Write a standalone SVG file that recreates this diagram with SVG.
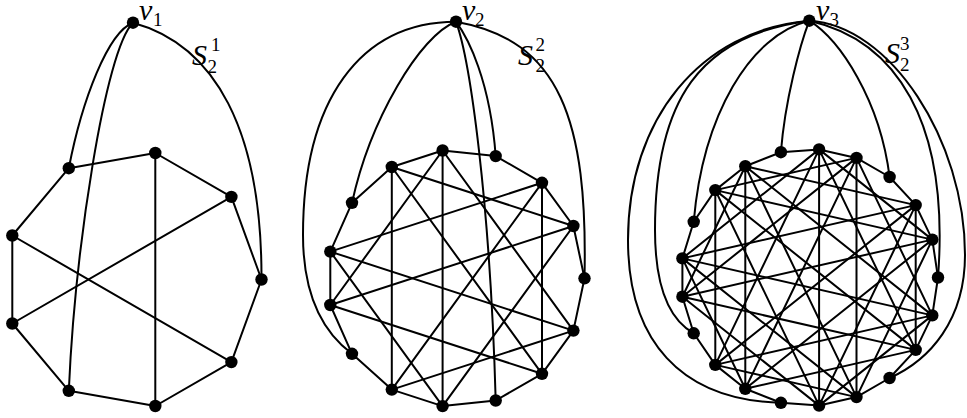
<svg xmlns="http://www.w3.org/2000/svg" width="967" height="418" viewBox="0 0 967 418">
<style>
.e{stroke:#000;stroke-width:2;fill:none;stroke-linecap:round}
.n{fill:#000}
.lbl{font-family:"Liberation Serif","Times New Roman",serif;font-style:italic;font-size:30px;fill:#000}
.d{font-style:normal;font-size:19px}
</style>
<defs><circle id="dot" r="6.2" class="n"/></defs>
<rect width="967" height="418" fill="#fff"/>
<g id="connectors">
<!-- graph 1 -->
<line class="e" x1="68.8" y1="168.2" x2="155.3" y2="153.0"/>
<line class="e" x1="155.3" y1="153.0" x2="231.4" y2="196.9"/>
<line class="e" x1="231.4" y1="196.9" x2="261.5" y2="279.5"/>
<line class="e" x1="261.5" y1="279.5" x2="231.4" y2="362.1"/>
<line class="e" x1="231.4" y1="362.1" x2="155.3" y2="406.0"/>
<line class="e" x1="155.3" y1="406.0" x2="68.8" y2="390.8"/>
<line class="e" x1="68.8" y1="390.8" x2="12.3" y2="323.5"/>
<line class="e" x1="12.3" y1="323.5" x2="12.3" y2="235.5"/>
<line class="e" x1="12.3" y1="235.5" x2="68.8" y2="168.2"/>
<line class="e" x1="155.3" y1="153.0" x2="155.3" y2="406.0"/>
<line class="e" x1="231.4" y1="196.9" x2="12.3" y2="323.5"/>
<line class="e" x1="12.3" y1="235.5" x2="231.4" y2="362.1"/>
<path class="e" d="M133,22.7 C108,32 82,100 68.8,168.2"/>
<path class="e" d="M133,22.7 C105,50 75,250 68.8,390.8"/>
<path class="e" d="M133,22.7 C215,45 262,130 261.5,279.5"/>
<!-- graph 2 -->
<line class="e" x1="442.6" y1="150.5" x2="495.7" y2="156.1"/>
<line class="e" x1="495.7" y1="156.1" x2="542.0" y2="182.8"/>
<line class="e" x1="542.0" y1="182.8" x2="573.4" y2="226.0"/>
<line class="e" x1="573.4" y1="226.0" x2="584.5" y2="278.3"/>
<line class="e" x1="584.5" y1="278.3" x2="573.4" y2="330.6"/>
<line class="e" x1="573.4" y1="330.6" x2="542.0" y2="373.8"/>
<line class="e" x1="542.0" y1="373.8" x2="495.7" y2="400.5"/>
<line class="e" x1="495.7" y1="400.5" x2="442.6" y2="406.1"/>
<line class="e" x1="442.6" y1="406.1" x2="391.8" y2="389.6"/>
<line class="e" x1="391.8" y1="389.6" x2="352.0" y2="353.8"/>
<line class="e" x1="352.0" y1="353.8" x2="330.3" y2="305.0"/>
<line class="e" x1="330.3" y1="305.0" x2="330.3" y2="251.6"/>
<line class="e" x1="330.3" y1="251.6" x2="352.0" y2="202.8"/>
<line class="e" x1="352.0" y1="202.8" x2="391.8" y2="167.0"/>
<line class="e" x1="391.8" y1="167.0" x2="442.6" y2="150.5"/>
<line class="e" x1="442.6" y1="150.5" x2="573.4" y2="330.6"/>
<line class="e" x1="542.0" y1="182.8" x2="542.0" y2="373.8"/>
<line class="e" x1="573.4" y1="226.0" x2="442.6" y2="406.1"/>
<line class="e" x1="573.4" y1="330.6" x2="391.8" y2="389.6"/>
<line class="e" x1="542.0" y1="373.8" x2="330.3" y2="305.0"/>
<line class="e" x1="442.6" y1="406.1" x2="330.3" y2="251.6"/>
<line class="e" x1="391.8" y1="389.6" x2="391.8" y2="167.0"/>
<line class="e" x1="330.3" y1="305.0" x2="442.6" y2="150.5"/>
<line class="e" x1="330.3" y1="251.6" x2="542.0" y2="182.8"/>
<line class="e" x1="391.8" y1="167.0" x2="573.4" y2="226.0"/>
<line class="e" x1="442.6" y1="150.5" x2="442.6" y2="406.1"/>
<line class="e" x1="542.0" y1="182.8" x2="391.8" y2="389.6"/>
<line class="e" x1="573.4" y1="226.0" x2="330.3" y2="305.0"/>
<line class="e" x1="573.4" y1="330.6" x2="330.3" y2="251.6"/>
<line class="e" x1="542.0" y1="373.8" x2="391.8" y2="167.0"/>
<path class="e" d="M456,21.7 C468,38 490,80 495.7,156.1"/>
<path class="e" d="M456,21.7 C470,60 490,200 495.7,400.5"/>
<path class="e" d="M456,21.7 C560,40 588,120 584.5,278.3"/>
<path class="e" d="M456,21.7 C420,35 370,120 352,202.8"/>
<path class="e" d="M456,21.7 C360,22 303,100 303,235 C303,290 320,330 352,353.8"/>
<!-- graph 3 -->
<line class="e" x1="780.9" y1="152.2" x2="819.1" y2="149.4"/>
<line class="e" x1="819.1" y1="149.4" x2="856.5" y2="157.9"/>
<line class="e" x1="856.5" y1="157.9" x2="889.6" y2="177.0"/>
<line class="e" x1="889.6" y1="177.0" x2="915.7" y2="205.1"/>
<line class="e" x1="915.7" y1="205.1" x2="932.3" y2="239.6"/>
<line class="e" x1="932.3" y1="239.6" x2="938.0" y2="277.5"/>
<line class="e" x1="938.0" y1="277.5" x2="932.3" y2="315.4"/>
<line class="e" x1="932.3" y1="315.4" x2="915.7" y2="349.9"/>
<line class="e" x1="915.7" y1="349.9" x2="889.6" y2="378.0"/>
<line class="e" x1="889.6" y1="378.0" x2="856.5" y2="397.1"/>
<line class="e" x1="856.5" y1="397.1" x2="819.1" y2="405.6"/>
<line class="e" x1="819.1" y1="405.6" x2="780.9" y2="402.8"/>
<line class="e" x1="780.9" y1="402.8" x2="745.3" y2="388.8"/>
<line class="e" x1="745.3" y1="388.8" x2="715.3" y2="364.9"/>
<line class="e" x1="715.3" y1="364.9" x2="693.7" y2="333.3"/>
<line class="e" x1="693.7" y1="333.3" x2="682.4" y2="296.7"/>
<line class="e" x1="682.4" y1="296.7" x2="682.4" y2="258.4"/>
<line class="e" x1="682.4" y1="258.4" x2="693.7" y2="221.8"/>
<line class="e" x1="693.7" y1="221.8" x2="715.3" y2="190.1"/>
<line class="e" x1="715.3" y1="190.1" x2="745.3" y2="166.2"/>
<line class="e" x1="745.3" y1="166.2" x2="780.9" y2="152.2"/>
<line class="e" x1="819.1" y1="149.4" x2="932.3" y2="239.6"/>
<line class="e" x1="856.5" y1="157.9" x2="932.3" y2="315.4"/>
<line class="e" x1="915.7" y1="205.1" x2="915.7" y2="349.9"/>
<line class="e" x1="932.3" y1="239.6" x2="856.5" y2="397.1"/>
<line class="e" x1="932.3" y1="315.4" x2="819.1" y2="405.6"/>
<line class="e" x1="915.7" y1="349.9" x2="745.3" y2="388.8"/>
<line class="e" x1="856.5" y1="397.1" x2="715.3" y2="364.9"/>
<line class="e" x1="819.1" y1="405.6" x2="682.4" y2="296.7"/>
<line class="e" x1="745.3" y1="388.8" x2="682.4" y2="258.4"/>
<line class="e" x1="715.3" y1="364.9" x2="715.3" y2="190.1"/>
<line class="e" x1="682.4" y1="296.7" x2="745.3" y2="166.2"/>
<line class="e" x1="682.4" y1="258.4" x2="819.1" y2="149.4"/>
<line class="e" x1="715.3" y1="190.1" x2="856.5" y2="157.9"/>
<line class="e" x1="745.3" y1="166.2" x2="915.7" y2="205.1"/>
<line class="e" x1="819.1" y1="149.4" x2="915.7" y2="349.9"/>
<line class="e" x1="856.5" y1="157.9" x2="856.5" y2="397.1"/>
<line class="e" x1="915.7" y1="205.1" x2="819.1" y2="405.6"/>
<line class="e" x1="932.3" y1="239.6" x2="745.3" y2="388.8"/>
<line class="e" x1="932.3" y1="315.4" x2="715.3" y2="364.9"/>
<line class="e" x1="915.7" y1="349.9" x2="682.4" y2="296.7"/>
<line class="e" x1="856.5" y1="397.1" x2="682.4" y2="258.4"/>
<line class="e" x1="819.1" y1="405.6" x2="715.3" y2="190.1"/>
<line class="e" x1="745.3" y1="388.8" x2="745.3" y2="166.2"/>
<line class="e" x1="715.3" y1="364.9" x2="819.1" y2="149.4"/>
<line class="e" x1="682.4" y1="296.7" x2="856.5" y2="157.9"/>
<line class="e" x1="682.4" y1="258.4" x2="915.7" y2="205.1"/>
<line class="e" x1="715.3" y1="190.1" x2="932.3" y2="239.6"/>
<line class="e" x1="745.3" y1="166.2" x2="932.3" y2="315.4"/>
<line class="e" x1="819.1" y1="149.4" x2="819.1" y2="405.6"/>
<line class="e" x1="856.5" y1="157.9" x2="745.3" y2="388.8"/>
<line class="e" x1="915.7" y1="205.1" x2="715.3" y2="364.9"/>
<line class="e" x1="932.3" y1="239.6" x2="682.4" y2="296.7"/>
<line class="e" x1="932.3" y1="315.4" x2="682.4" y2="258.4"/>
<line class="e" x1="915.7" y1="349.9" x2="715.3" y2="190.1"/>
<line class="e" x1="856.5" y1="397.1" x2="745.3" y2="166.2"/>
<path class="e" d="M809.3,20.7 C800,45 785,100 780.9,152.2"/>
<path class="e" d="M809.3,20.7 C840,40 880,100 889.6,177.0"/>
<path class="e" d="M809.3,20.7 C895,40 950,120 938.0,277.5"/>
<path class="e" d="M809.3,20.7 C890,25 965,140 965,255 C965,320 930,360 889.6,378.0"/>
<path class="e" d="M809.3,20.7 C750,35 703,115 693.7,221.8"/>
<path class="e" d="M809.3,20.7 C700,35 655,100 655,230 C655,290 670,320 693.7,333.3"/>
<path class="e" d="M809.3,20.7 C700,30 628,120 628,240 C628,340 680,400 780.9,402.8"/>
</g>
<!-- graph 1 nodes -->
<g id="v1"><use href="#dot" x="133" y="22.7"/><text class="lbl" x="139" y="20">v<tspan class="d" x="153" y="25.5">1</tspan></text></g>
<g id="g1a"><use href="#dot" x="68.8" y="168.2"/></g>
<g id="g1b"><use href="#dot" x="155.3" y="153.0"/></g>
<g id="g1c"><use href="#dot" x="231.4" y="196.9"/></g>
<g id="g1d"><use href="#dot" x="261.5" y="279.5"/></g>
<g id="g1e"><use href="#dot" x="231.4" y="362.1"/></g>
<g id="g1f"><use href="#dot" x="155.3" y="406.0"/></g>
<g id="g1g"><use href="#dot" x="68.8" y="390.8"/></g>
<g id="g1h"><use href="#dot" x="12.3" y="323.5"/></g>
<g id="g1i"><use href="#dot" x="12.3" y="235.5"/></g>
<g id="label1"><text class="lbl" x="192" y="65">S<tspan class="d" x="211" y="51">1</tspan><tspan class="d" x="207.5" y="72.5">2</tspan></text></g>
<!-- graph 2 nodes -->
<g id="v2"><use href="#dot" x="456" y="21.7"/><text class="lbl" x="462" y="20">v<tspan class="d" x="475" y="25.5">2</tspan></text></g>
<g id="g2n1"><use href="#dot" x="442.6" y="150.5"/></g>
<g id="g2n2"><use href="#dot" x="495.7" y="156.1"/></g>
<g id="g2n3"><use href="#dot" x="542.0" y="182.8"/></g>
<g id="g2n4"><use href="#dot" x="573.4" y="226.0"/></g>
<g id="g2n5"><use href="#dot" x="584.5" y="278.3"/></g>
<g id="g2n6"><use href="#dot" x="573.4" y="330.6"/></g>
<g id="g2n7"><use href="#dot" x="542.0" y="373.8"/></g>
<g id="g2n8"><use href="#dot" x="495.7" y="400.5"/></g>
<g id="g2n9"><use href="#dot" x="442.6" y="406.1"/></g>
<g id="g2n10"><use href="#dot" x="391.8" y="389.6"/></g>
<g id="g2n11"><use href="#dot" x="352.0" y="353.8"/></g>
<g id="g2n12"><use href="#dot" x="330.3" y="305.0"/></g>
<g id="g2n13"><use href="#dot" x="330.3" y="251.6"/></g>
<g id="g2n14"><use href="#dot" x="352.0" y="202.8"/></g>
<g id="g2n15"><use href="#dot" x="391.8" y="167.0"/></g>
<g id="label2"><text class="lbl" x="518" y="65">S<tspan class="d" x="535.5" y="51">2</tspan><tspan class="d" x="535.5" y="72">2</tspan></text></g>
<!-- graph 3 nodes -->
<g id="v3"><use href="#dot" x="809.3" y="20.7"/><text class="lbl" x="816" y="19.5">v<tspan class="d" x="829.5" y="25.5">3</tspan></text></g>
<g id="g3p0"><use href="#dot" x="780.9" y="152.2"/></g>
<g id="g3p1"><use href="#dot" x="819.1" y="149.4"/></g>
<g id="g3p2"><use href="#dot" x="856.5" y="157.9"/></g>
<g id="g3p3"><use href="#dot" x="889.6" y="177.0"/></g>
<g id="g3p4"><use href="#dot" x="915.7" y="205.1"/></g>
<g id="g3p5"><use href="#dot" x="932.3" y="239.6"/></g>
<g id="g3p6"><use href="#dot" x="938.0" y="277.5"/></g>
<g id="g3p7"><use href="#dot" x="932.3" y="315.4"/></g>
<g id="g3p8"><use href="#dot" x="915.7" y="349.9"/></g>
<g id="g3p9"><use href="#dot" x="889.6" y="378.0"/></g>
<g id="g3p10"><use href="#dot" x="856.5" y="397.1"/></g>
<g id="g3p11"><use href="#dot" x="819.1" y="405.6"/></g>
<g id="g3p12"><use href="#dot" x="780.9" y="402.8"/></g>
<g id="g3p13"><use href="#dot" x="745.3" y="388.8"/></g>
<g id="g3p14"><use href="#dot" x="715.3" y="364.9"/></g>
<g id="g3p15"><use href="#dot" x="693.7" y="333.3"/></g>
<g id="g3p16"><use href="#dot" x="682.4" y="296.7"/></g>
<g id="g3p17"><use href="#dot" x="682.4" y="258.4"/></g>
<g id="g3p18"><use href="#dot" x="693.7" y="221.8"/></g>
<g id="g3p19"><use href="#dot" x="715.3" y="190.1"/></g>
<g id="g3p20"><use href="#dot" x="745.3" y="166.2"/></g>
<g id="label3"><text class="lbl" x="885" y="63">S<tspan class="d" x="900" y="50">3</tspan><tspan class="d" x="900" y="71">2</tspan></text></g>
</svg>
